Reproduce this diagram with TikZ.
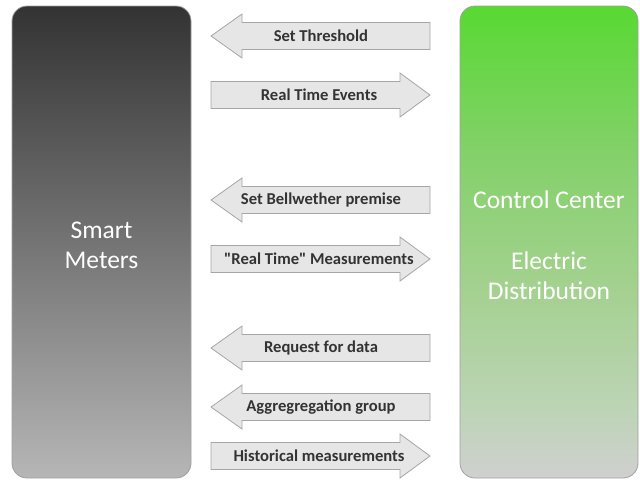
\documentclass[tikz,border=0pt]{standalone}
\usepackage{fontspec}
\setmainfont{Carlito}
\usetikzlibrary{calc}

\definecolor{mtop}{HTML}{333333}
\definecolor{mmid}{HTML}{747474}
\definecolor{mbot}{HTML}{B6B6B6}
\definecolor{ctop}{HTML}{58D932}
\definecolor{cmid}{HTML}{82D168}
\definecolor{cmid2}{HTML}{A4D190}
\definecolor{clow}{HTML}{BDD4B6}
\definecolor{cbot}{HTML}{D0D0D0}
\definecolor{boxline}{HTML}{A0A0A0}
\definecolor{arrowfill}{HTML}{E6E6E6}
\definecolor{arrowline}{HTML}{A6A6A6}
\definecolor{labeltext}{HTML}{333333}

% vertical shadings: bottom colour at 25bp, top colour at 75bp
\pgfdeclareverticalshading{metershade}{100bp}{%
  color(0bp)=(mbot); color(25bp)=(mbot); color(50bp)=(mmid); color(75bp)=(mtop); color(100bp)=(mtop)}
\pgfdeclareverticalshading{centershade}{100bp}{%
  color(0bp)=(cbot); color(25bp)=(cbot); color(32bp)=(clow); color(45bp)=(cmid2);
  color(60bp)=(cmid); color(75bp)=(ctop); color(100bp)=(ctop)}

\tikzset{
  column/.style={draw=boxline, line width=0.8pt, rounded corners=15pt},
  bigtext/.style={text=white, font=\fontsize{25.5}{30}\selectfont, align=center},
  flow/.style={fill=arrowfill, draw=arrowline, line width=0.8pt},
  flowtext/.style={text=labeltext, font=\fontsize{16.6}{19}\selectfont\bfseries}
}

% left-pointing arrow: name, centre y, label
\newcommand\flowleft[3]{%
  \draw[flow] (211,#2) -- (242,#2-22) -- (242,#2-13.5) -- (430,#2-13.5)
    -- (430,#2+13.5) -- (242,#2+13.5) -- (242,#2+22) -- cycle;
  \node[flowtext] (#1) at (321,#2) {#3};}
% right-pointing arrow: name, centre y, label
\newcommand\flowright[3]{%
  \draw[flow] (430,#2) -- (400,#2-22) -- (400,#2-13.5) -- (211,#2-13.5)
    -- (211,#2+13.5) -- (400,#2+13.5) -- (400,#2+22) -- cycle;
  \node[flowtext] (#1) at (319,#2) {#3};}

\begin{document}
\begin{tikzpicture}[x=1pt, y=-1pt]
  \useasboundingbox (0,0) rectangle (640,480);

  % the two end columns
  \path[column, shading=metershade] (12,6) rectangle (191,478);
  \path[column, shading=centershade] (460,6) rectangle (638,478);

  \node[bigtext] (meters) at (101.5,245) {Smart\\Meters};
  \node[bigtext] (cc) at (549,200) {Control Center};
  \node[bigtext] (ed) at (549,276) {Electric\\Distribution};

  % message arrows
  \flowleft{thresh}{36}{Set Threshold}
  \flowright{events}{95}{Real Time Events}
  \flowleft{bell}{200}{Set Bellwether premise}
  \flowright{meas}{259}{\textquotedbl Real Time\textquotedbl{} Measurements}
  \flowleft{req}{348}{Request for data}
  \flowleft{agg}{407}{Aggregregation group}
  \flowright{hist}{456}{Historical measurements}
\end{tikzpicture}
\end{document}
